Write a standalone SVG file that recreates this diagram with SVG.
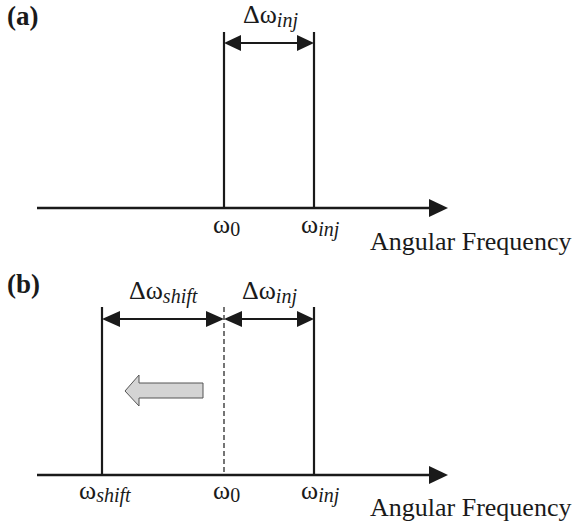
<svg xmlns="http://www.w3.org/2000/svg" width="580" height="526" viewBox="0 0 580 526">
<defs>
<style>
text{font-family:"Liberation Serif","Times New Roman",serif;fill:#1a1a1a}
.lbl{font-size:26px}
.panel{font-size:27px;font-weight:bold}
.sub{font-size:20px;font-style:italic}
.ax{font-size:26px}
.line{stroke:#1a1a1a;stroke-width:2.2;fill:none}
.axis{stroke:#1a1a1a;stroke-width:2.6;fill:none}
.dash{stroke:#1a1a1a;stroke-width:1.2;stroke-dasharray:5,3;fill:none}
.head{fill:#1a1a1a}
</style>
</defs>
<rect width="580" height="526" fill="#fff"/>

<!-- Panel (a) -->
<g id="panel-a-label"><text class="panel" x="7" y="25">(a)</text></g>
<g id="connectors-a">
<line class="axis" x1="37" y1="208" x2="432" y2="208"/>
<polygon class="head" points="429,199 448,208 429,217"/>
<line class="line" x1="224" y1="32" x2="224" y2="208"/>
<line class="line" x1="314" y1="32" x2="314" y2="208"/>
<line class="line" x1="238" y1="43" x2="300" y2="43"/>
<polygon class="head" points="224,43 241,35 241,51"/>
<polygon class="head" points="314,43 297,35 297,51"/>
</g>
<g id="dw-inj-a"><text class="lbl" x="243" y="23">Δω<tspan class="sub" dy="4">inj</tspan></text></g>
<g id="w0-a"><text class="lbl" x="213" y="233">ω<tspan font-size="20" dy="3">0</tspan></text></g>
<g id="winj-a"><text class="lbl" x="301" y="233">ω<tspan class="sub" dy="3">inj</tspan></text></g>
<g id="axis-label-a"><text class="ax" x="370" y="250">Angular Frequency</text></g>

<!-- Panel (b) -->
<g id="panel-b-label"><text class="panel" x="7" y="293">(b)</text></g>
<g id="connectors-b">
<line class="axis" x1="37" y1="475" x2="432" y2="475"/>
<polygon class="head" points="429,466 448,475 429,484"/>
<line class="line" x1="102" y1="307" x2="102" y2="475"/>
<line class="line" x1="314" y1="307" x2="314" y2="475"/>
<line class="dash" x1="224" y1="307" x2="224" y2="475"/>
<line class="line" x1="116" y1="319" x2="210" y2="319"/>
<polygon class="head" points="102,319 120,311 120,327"/>
<polygon class="head" points="224,319 206,311 206,327"/>
<line class="line" x1="238" y1="319" x2="300" y2="319"/>
<polygon class="head" points="224,319 242,311 242,327"/>
<polygon class="head" points="314,319 297,311 297,327"/>
</g>
<g id="shift-arrow"><polygon points="125,391 139,375 139,383 203,383 203,398 139,398 139,406" fill="#d4d4d4" stroke="#555" stroke-width="1"/></g>
<g id="dw-shift"><text class="lbl" x="129" y="299">Δω<tspan class="sub" dy="4">shift</tspan></text></g>
<g id="dw-inj-b"><text class="lbl" x="242" y="299">Δω<tspan class="sub" dy="4">inj</tspan></text></g>
<g id="wshift"><text class="lbl" x="79" y="499">ω<tspan class="sub" dy="3">shift</tspan></text></g>
<g id="w0-b"><text class="lbl" x="213" y="499">ω<tspan font-size="20" dy="3">0</tspan></text></g>
<g id="winj-b"><text class="lbl" x="301" y="499">ω<tspan class="sub" dy="3">inj</tspan></text></g>
<g id="axis-label-b"><text class="ax" x="370" y="516">Angular Frequency</text></g>
</svg>
